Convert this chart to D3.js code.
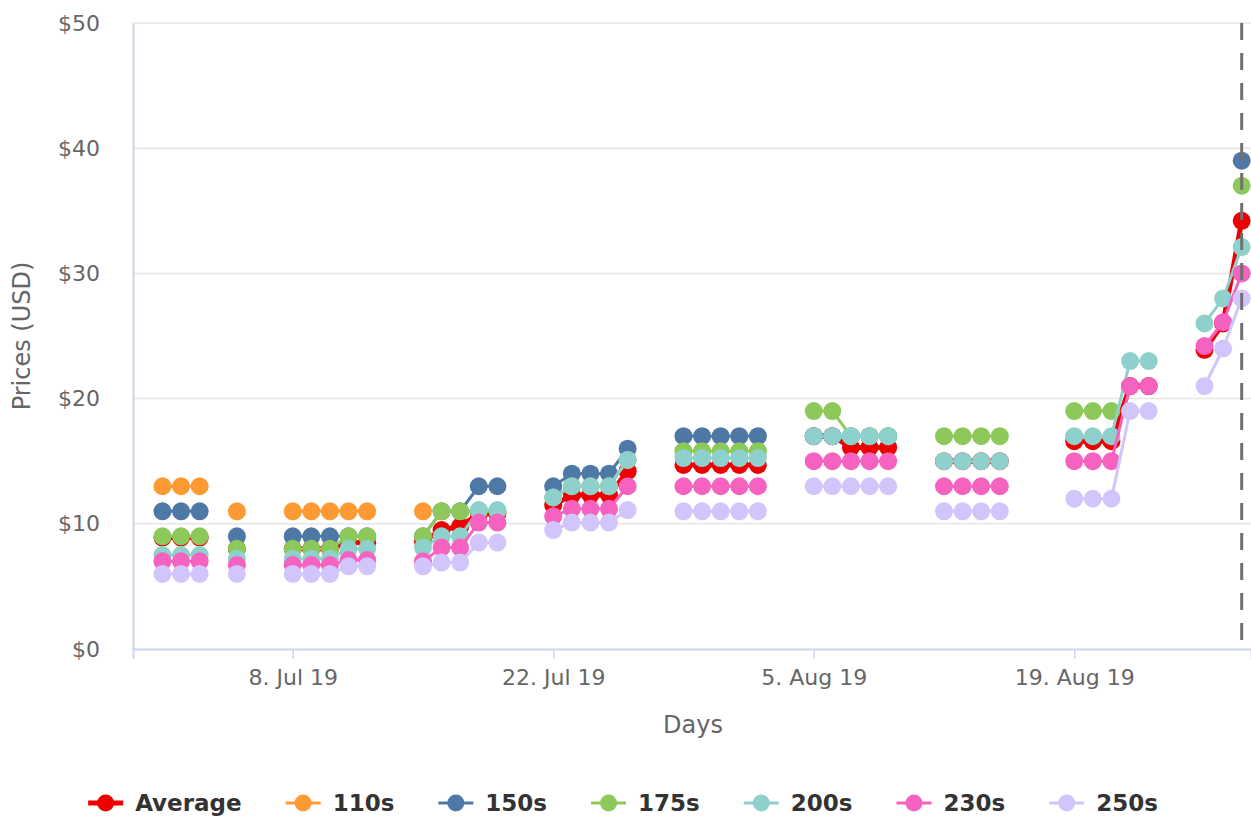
<!DOCTYPE html>
<html>
<head>
<meta charset="utf-8">
<script src="https://cdn.jsdelivr.net/npm/d3@7"></script>
<style>
  html, body { margin: 0; padding: 0; background: #fff; }
  svg { display: block; font-family: 'DejaVu Sans', sans-serif; }
</style>
</head>
<body>
<svg id="chart" width="1251" height="819"></svg>
<script>
// trading days shown on the chart
const days = [
  '2019-07-01', '2019-07-02', '2019-07-03', '2019-07-05',
  '2019-07-08', '2019-07-09', '2019-07-10', '2019-07-11', '2019-07-12',
  '2019-07-15', '2019-07-16', '2019-07-17', '2019-07-18', '2019-07-19',
  '2019-07-22', '2019-07-23', '2019-07-24', '2019-07-25', '2019-07-26',
  '2019-07-29', '2019-07-30', '2019-07-31', '2019-08-01', '2019-08-02',
  '2019-08-05', '2019-08-06', '2019-08-07', '2019-08-08', '2019-08-09',
  '2019-08-12', '2019-08-13', '2019-08-14', '2019-08-15',
  '2019-08-19', '2019-08-20', '2019-08-21', '2019-08-22', '2019-08-23',
  '2019-08-26', '2019-08-27', '2019-08-28'
]

const avgPrices = [
  8.9, 8.9, 8.9, 8.0,
  8.0, 8.0, 8.0, 8.5, 8.5,
  8.6, 9.5, 9.8, 10.8, 10.8,
  11.5, 12.3, 12.3, 12.3, 14.2,
  14.7, 14.7, 14.7, 14.7, 14.7,
  17, 17, 16.1, 16.1, 16.1,
  15, 15, 15, 15,
  16.6, 16.6, 16.6, 21, 21,
  23.9, 26, 34.2
]
const s110 = [
  13, 13, 13, 11,
  11, 11, 11, 11, 11,
  11, null, null, null, null,
  null, null, null, null, null,
  null, null, null, null, null,
  null, null, null, null, null,
  null, null, null, null,
  null, null, null, null, null,
  null, null, null
]
const s150 = [
  11, 11, 11, 9,
  9, 9, 9, 9, 9,
  9, 11, 11, 13, 13,
  13, 14, 14, 14, 16,
  17, 17, 17, 17, 17,
  17, 17, 17, 17, 17,
  null, null, null, null,
  null, null, null, null, null,
  null, null, 39
]
const s175 = [
  9, 9, 9, 8,
  8, 8, 8, 9, 9,
  9, 11, 11, 11, 11,
  12.1, 13, 13, 13, 15.1,
  15.8, 15.8, 15.8, 15.8, 15.8,
  19, 19, 17, 17, 17,
  17, 17, 17, 17,
  19, 19, 19, null, null,
  null, null, 37
]
const s200 = [
  7.5, 7.5, 7.5, 7.2,
  7.2, 7.2, 7.2, 8, 8,
  8.1, 9, 9, 11.1, 11.1,
  12.1, 13, 13, 13, 15.1,
  15.25, 15.25, 15.25, 15.25, 15.25,
  17, 17, 17, 17, 17,
  15, 15, 15, 15,
  17, 17, 17, 23, 23,
  26, 28, 32.1
]
const s230 = [
  7, 7, 7, 6.7,
  6.7, 6.7, 6.7, 7.1, 7.1,
  7, 8.1, 8.1, 10.1, 10.1,
  10.6, 11.2, 11.2, 11.2, 13,
  13, 13, 13, 13, 13,
  15, 15, 15, 15, 15,
  13, 13, 13, 13,
  15, 15, 15, 21, 21,
  24.2, 26.1, 30
]
const s250 = [
  6, 6, 6, 6,
  6, 6, 6, 6.6, 6.6,
  6.6, 6.9, 6.9, 8.5, 8.5,
  9.5, 10.1, 10.1, 10.1, 11.1,
  11, 11, 11, 11, 11,
  13, 13, 13, 13, 13,
  11, 11, 11, 11,
  12, 12, 12, 19, 19,
  21, 24, 28
]

const seriesNames = ['Average', '110s', '150s', '175s', '200s', '230s', '250s']
const seriesColors = ['#ee0000', '#fe9a33', '#4e79a7', '#8cc95a', '#8dd0cc', '#f562c0', '#d2c5fb']
const seriesValues = [avgPrices, s110, s150, s175, s200, s230, s250]

const xTicks = ['2019-07-08', '2019-07-22', '2019-08-05', '2019-08-19']
const yTicks = [0, 10, 20, 30, 40, 50]
const todayLine = '2019-08-28'

const parse = d3.timeParse('%Y-%m-%d')
const dates = days.map(parse)
const DAY = 864e5

const svg = d3.select('#chart')
const width = 1251
const height = 819
const margin = { top: 23, right: 0, bottom: 170, left: 133 }
const innerWidth = width - margin.left - margin.right
const innerHeight = height - margin.top - margin.bottom

const x = d3.scaleTime()
  .domain([new Date(2019, 5, 29, 10), new Date(2019, 7, 28, 12)])
  .range([0, innerWidth])

const y = d3.scaleLinear()
  .domain([0, 50])
  .range([innerHeight, 0])

const g = svg.append('g')
  .attr('transform', `translate(${margin.left},${margin.top})`)

// ------------------
// Grid
// ------------------
g.append('g')
  .selectAll('line')
  .data(yTicks.filter(d => d > 0))
  .join('line')
  .attr('x1', 0)
  .attr('x2', innerWidth)
  .attr('y1', d => y(d))
  .attr('y2', d => y(d))
  .attr('stroke', '#e6e6e6')
  .attr('stroke-width', 1.5)

// ------------------
// Axes
// ------------------
const xAxis = g.append('g')
  .attr('transform', `translate(0,${innerHeight})`)
  .call(d3.axisBottom(x)
    .tickValues(xTicks.map(parse))
    .tickFormat(d3.timeFormat('%-d. %b %y'))
    .tickSize(10)
    .tickPadding(10))
  .attr('font-size', 22)
  .attr('font-family', 'DejaVu Sans, sans-serif')
xAxis.select('.domain').attr('stroke', '#ccd6eb').attr('stroke-width', 2)
xAxis.selectAll('.tick line').attr('stroke', '#ccd6eb').attr('stroke-width', 1.5)
xAxis.selectAll('.tick text').attr('fill', '#666')

const yAxis = g.append('g')
  .call(d3.axisLeft(y)
    .tickValues(yTicks)
    .tickFormat(d => '$' + d)
    .tickSize(0)
    .tickPadding(33))
  .attr('font-size', 22)
  .attr('font-family', 'DejaVu Sans, sans-serif')
yAxis.select('.domain').attr('stroke', '#ccd6eb').attr('stroke-width', 2)
yAxis.selectAll('.tick text').attr('fill', '#666')

// axis titles
svg.append('text')
  .attr('transform', `translate(30,${margin.top + innerHeight / 2}) rotate(-90)`)
  .attr('text-anchor', 'middle')
  .attr('fill', '#666')
  .attr('font-size', 24)
  .text('Prices (USD)')

svg.append('text')
  .attr('x', 693)
  .attr('y', 733)
  .attr('text-anchor', 'middle')
  .attr('fill', '#666')
  .attr('font-size', 24)
  .text('Days')

// ------------------
// Series
// ------------------
function withBreaks(vals) {
  const out = []
  vals.forEach((v, i) => {
    if (i > 0 && dates[i] - dates[i - 1] > 1.5 * DAY) out.push({ date: null, v: null })
    out.push({ date: dates[i], v })
  })
  return out
}

const line = d3.line()
  .defined(d => d.v != null)
  .x(d => x(d.date))
  .y(d => y(d.v))

seriesValues.forEach((vals, i) => {
  const sg = g.append('g')
  const pts = withBreaks(vals)
  sg.append('path')
    .datum(pts)
    .attr('fill', 'none')
    .attr('stroke', seriesColors[i])
    .attr('stroke-width', i === 0 ? 5 : 3)
    .attr('stroke-linejoin', 'round')
    .attr('d', line)
  sg.selectAll('circle')
    .data(pts.filter(d => d.v != null))
    .join('circle')
    .attr('cx', d => x(d.date))
    .attr('cy', d => y(d.v))
    .attr('r', 9)
    .attr('fill', seriesColors[i])
})

// dashed "today" line
g.append('line')
  .attr('x1', x(parse(todayLine)))
  .attr('x2', x(parse(todayLine)))
  .attr('y1', 0)
  .attr('y2', innerHeight)
  .attr('stroke', '#707070')
  .attr('stroke-width', 3)
  .attr('stroke-dasharray', '17,13')

// ------------------
// Legend
// ------------------
const legend = svg.append('g')
let lx = 0
seriesNames.forEach((name, i) => {
  const item = legend.append('g').attr('transform', `translate(${lx},0)`)
  item.append('line')
    .attr('x1', 0).attr('x2', 35)
    .attr('y1', 0).attr('y2', 0)
    .attr('stroke', seriesColors[i])
    .attr('stroke-width', i === 0 ? 5 : 3)
  item.append('circle')
    .attr('cx', 17.5).attr('cy', 0).attr('r', 8.5)
    .attr('fill', seriesColors[i])
  const t = item.append('text')
    .attr('x', 47)
    .attr('y', 8)
    .attr('fill', '#333')
    .attr('font-size', 23)
    .attr('font-weight', 'bold')
    .text(name)
  lx += 47 + t.node().getComputedTextLength() + 44
})
const legendWidth = lx - 44
legend.attr('transform', `translate(${623 - legendWidth / 2},803)`)
</script>
</body>
</html>
